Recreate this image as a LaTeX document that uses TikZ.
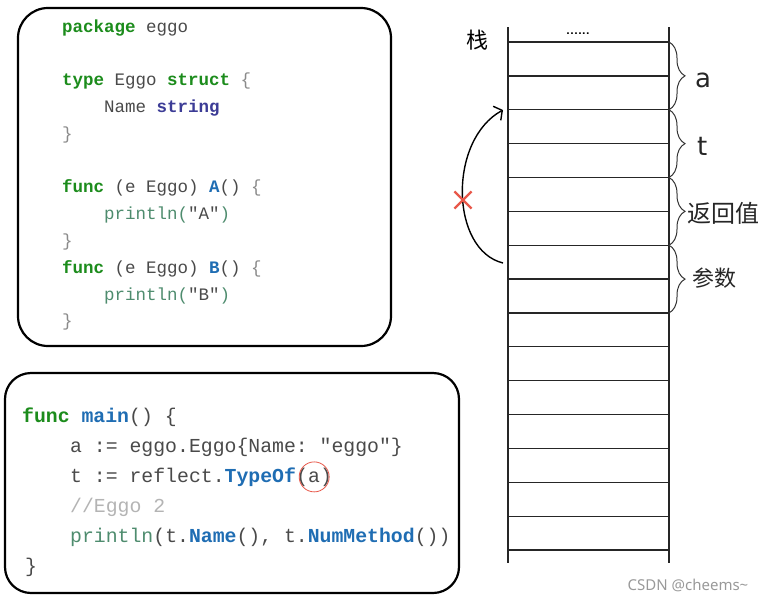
\documentclass[tikz,border=0pt]{standalone}
\usepackage{fontspec}
\setmonofont{Liberation Mono}
\newfontfamily\cjkfont{Noto Sans CJK SC}
\newfontfamily\handsans{DejaVu Sans}
\newfontfamily\marksans{Noto Sans}
\usetikzlibrary{calc,positioning,arrows.meta,decorations.pathreplacing,shapes.misc}

\definecolor{kwgreen}{HTML}{1C8C1C}
\definecolor{fnblue}{HTML}{1F6DB3}
\definecolor{typepurple}{HTML}{3C3C96}
\definecolor{printteal}{HTML}{4E8C6E}
\definecolor{plaingray}{HTML}{4A4A4A}
\definecolor{bracegray}{HTML}{8A8A8A}
\definecolor{commentgray}{HTML}{B4B4B4}
\definecolor{xred}{HTML}{E8584A}
\newcommand{\kw}[1]{\textcolor{kwgreen}{\textbf{#1}}}
\newcommand{\fn}[1]{\textcolor{fnblue}{\textbf{#1}}}
\newcommand{\ty}[1]{\textcolor{typepurple}{\textbf{#1}}}
\newcommand{\pr}[1]{\textcolor{printteal}{#1}}
\newcommand{\br}[1]{\textcolor{bracegray}{#1}}

\begin{document}
\begin{tikzpicture}[
    x=1pt, y=-1pt,
    codebox/.style={draw=black, line width=2.2pt, rounded corners=30pt, fill=white, inner sep=0},
    code/.style={anchor=base west, inner sep=0, text=plaingray, font=\ttfamily\fontsize{17.5}{20}\selectfont},
    codebig/.style={code, font=\ttfamily\fontsize{19.8}{22}\selectfont},
    slot/.style={draw=black!85, line width=1.3pt},
    slotbrace/.style={decorate, decoration={brace, amplitude=16pt}, draw=black!80, line width=1pt},
    jump/.style={-{Straight Barb[length=6pt,width=16pt]}, line width=1.4pt},
    stacklabel/.style={anchor=west, inner sep=0, text=black!85}
]
\useasboundingbox (0,0) rectangle (779,603);

% code boxes
\node[codebox, minimum width=373pt, minimum height=338pt] (pkgbox) at (204.5,177) {};
\node[codebox, minimum width=454pt, minimum height=220pt, rounded corners=26pt] (mainbox) at (232,483) {};

% package eggo
\node[code] (pkg) at (62,32) {\kw{package} eggo};
\node[code] (tydef) at (62,85.6) {\kw{type} Eggo \kw{struct} \br{\{}};
\node[code] (field) at (104,112.4) {Name \ty{string}};
\node[code] (tyend) at (62,139.2) {\br{\}}};
\node[code] (fnA) at (62,192.8) {\kw{func} (e Eggo) \fn{A}() \br{\{}};
\node[code] (prA) at (104,219.6) {\pr{println(}"A"\pr{)}};
\node[code] (fnAend) at (62,246.4) {\br{\}}};
\node[code] (fnB) at (62,273.2) {\kw{func} (e Eggo) \fn{B}() \br{\{}};
\node[code] (prB) at (104,300) {\pr{println(}"B"\pr{)}};
\node[code] (fnBend) at (62,326.8) {\br{\}}};

% main
\node[codebig] (mainfn) at (22,422) {\kw{func} \fn{main}() \{};
\node[codebig] (aline) at (70,452) {a := eggo.Eggo\{Name: "eggo"\}};
\node[codebig] (tline) at (70,482) {t := reflect.\fn{TypeOf}};
\node[codebig] (targ) at (tline.base east) {(a)};
\node[circle, draw=xred, line width=0.8pt, minimum size=30pt, inner sep=0] (argring) at (targ.center) {};
\node[codebig, text=commentgray] (cmt) at (70,512) {//Eggo 2};
\node[codebig] (prline) at (70,542) {\pr{println}(t.\fn{Name}(), t.\fn{NumMethod}())};
\node[codebig] (mainend) at (25,572) {\}};

% stack
\coordinate (stackNW) at (508,27);
\coordinate (stackSW) at (508,563);
\coordinate (stackNE) at (669,27);
\coordinate (stackSE) at (669,563);
\draw[slot] (stackNW) -- (stackSW);
\draw[slot] (stackNE) -- (stackSE);
\foreach \i in {0,...,15} {
  \coordinate (sl\i) at (508,{42+33.87*\i});
  \coordinate (sr\i) at (669,{42+33.87*\i});
  \draw[slot] (sl\i) -- (sr\i);
}
\node[inner sep=0, font=\sffamily\bfseries\fontsize{13}{13}\selectfont] (more) at (578,34) {......};
\node[inner sep=0, font=\cjkfont\fontsize{22}{22}\selectfont] (stk) at (477,40) {栈};

% braces
\draw[slotbrace] (sr0) -- (sr2);
\draw[slotbrace] (sr2) -- (sr4);
\draw[slotbrace] (sr4) -- (sr6);
\draw[slotbrace] (sr6) -- (sr8);
\node[stacklabel, font=\handsans\fontsize{26}{26}\selectfont] (la) at (695,80) {a};
\node[stacklabel, font=\handsans\fontsize{26}{26}\selectfont] (lt) at (697,146) {t};
\node[stacklabel, font=\cjkfont\fontsize{24}{24}\selectfont] (lret) at (687,213) {返回值};
\node[stacklabel, font=\cjkfont\fontsize{22}{22}\selectfont] (larg) at (692,278) {参数};

% return jump
\coordinate (retfrom) at (503,263);
\coordinate (retto) at (503,110);
\draw[jump] (retfrom) .. controls (450,250) and (448,140) .. (retto);
\node[cross out, draw=xred, line width=2.2pt, minimum size=15pt, inner sep=0] (bad) at (463,200) {};

\node[inner sep=0, text=black!40, font=\marksans\fontsize{15}{15}\selectfont] (mark) at (688,585) {CSDN @cheems\textasciitilde};
\end{tikzpicture}
\end{document}
